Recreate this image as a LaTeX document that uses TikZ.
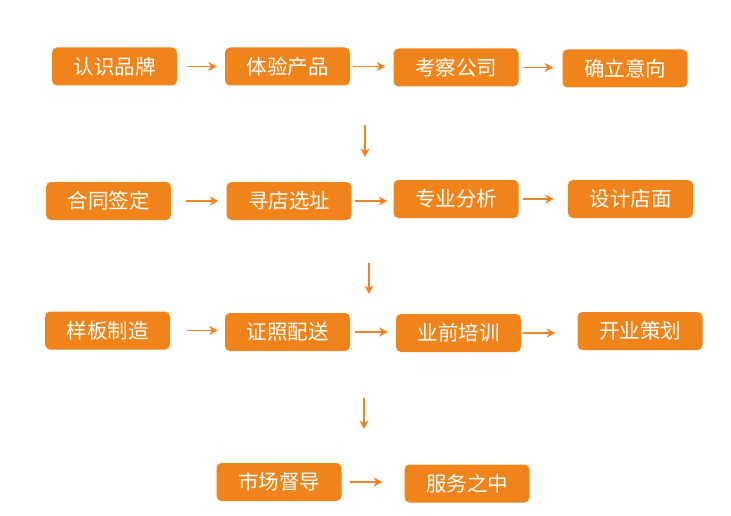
\documentclass[tikz,border=0pt]{standalone}
\usepackage{fontspec}
\setmainfont{Noto Sans CJK SC}
\usetikzlibrary{arrows.meta}
\definecolor{boxorange}{HTML}{F0841A}
\definecolor{arrorange}{HTML}{EE8424}
\begin{document}
\begin{tikzpicture}[x=1pt,y=-1pt,
  stepbox/.style={fill=boxorange, rounded corners=5pt, minimum width=125pt, minimum height=38pt,
    inner sep=0pt, text=white, font=\fontsize{20.5pt}{24pt}\selectfont},
  flow/.style={draw=arrorange, line width=1.5pt, -{Stealth[length=8.5pt,width=9pt,inset=2.5pt]}}]
\useasboundingbox (0,0) rectangle (731,516);
\node[stepbox] (n1) at (114.5,66.5) {认识品牌};
\node[stepbox] (n2) at (287.5,66.5) {体验产品};
\node[stepbox] (n3) at (456,67.5) {考察公司};
\node[stepbox] (n4) at (625,68.5) {确立意向};
\node[stepbox] (n5) at (108.5,201) {合同签定};
\node[stepbox] (n6) at (289,201) {寻店选址};
\node[stepbox] (n7) at (456,199) {专业分析};
\node[stepbox] (n8) at (630.5,199) {设计店面};
\node[stepbox] (n9) at (107.5,330.5) {样板制造};
\node[stepbox] (n10) at (287.5,332) {证照配送};
\node[stepbox] (n11) at (458.5,333) {业前培训};
\node[stepbox] (n12) at (640,331) {开业策划};
\node[stepbox] (n13) at (279,482) {市场督导};
\node[stepbox] (n14) at (467,483.5) {服务之中};
% horizontal connectors
\draw[flow, shorten <=10pt, shorten >=8pt] (n1.east) -- (n2.west |- n1.east);
\draw[flow, shorten <=3pt, shorten >=8pt] (n2.east) -- (n3.west |- n2.east);
\draw[flow, shorten <=4pt, shorten >=9pt] (n3.east) -- (n4.west |- n3.east);
\draw[flow, shorten <=15pt, shorten >=8pt] (n5.east) -- (n6.west |- n5.east);
\draw[flow, shorten <=3pt, shorten >=6pt] (n6.east) -- (n7.west |- n6.east);
\draw[flow, shorten <=4pt, shorten >=14pt] (n7.east) -- (n8.west |- n7.east);
\draw[flow, shorten <=17pt, shorten >=7pt] (n9.east) -- (n10.west |- n9.east);
\draw[flow, shorten <=5pt, shorten >=8pt] (n10.east) -- (n11.west |- n10.east);
\draw[flow, shorten <=2pt, shorten >=22pt] (n11.east) -- (n12.west |- n11.east);
\draw[flow, shorten <=8pt, shorten >=22pt] (n13.east) -- (n14.west |- n13.east);
% vertical arrows between rows
\coordinate (d1a) at (365,125); \coordinate (d1b) at (365,157);
\coordinate (d2a) at (369,263); \coordinate (d2b) at (369,294);
\coordinate (d3a) at (364,398); \coordinate (d3b) at (364,429);
\draw[flow] (d1a) -- (d1b);
\draw[flow] (d2a) -- (d2b);
\draw[flow] (d3a) -- (d3b);
\end{tikzpicture}
\end{document}
